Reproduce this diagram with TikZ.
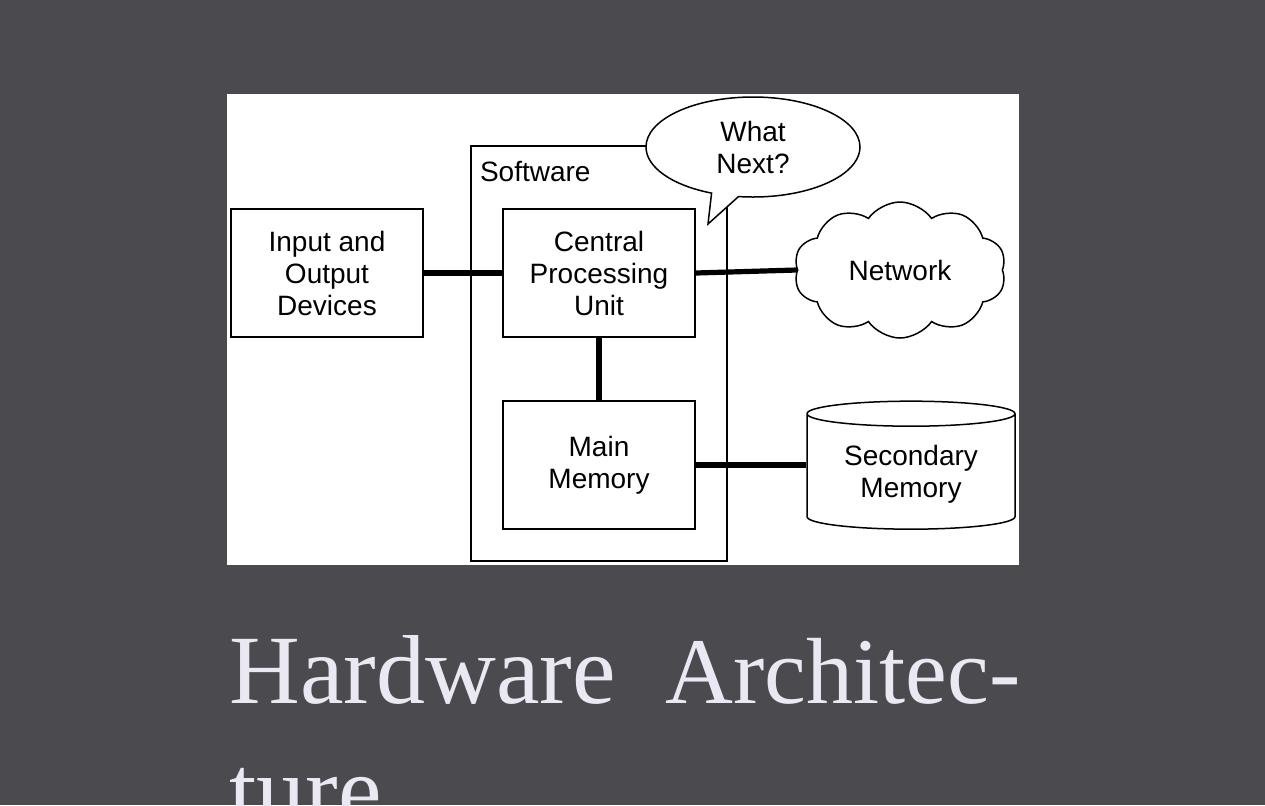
\documentclass[tikz,border=0pt]{standalone}
\usepackage{fontspec}
\setmainfont{Liberation Sans}
\newfontfamily\titlefont{Liberation Serif}
\usetikzlibrary{positioning}
\usetikzlibrary{shapes.geometric}
\usetikzlibrary{shapes.symbols}
\usetikzlibrary{shapes.callouts}
\definecolor{slidebg}{HTML}{4B4A4F}
\definecolor{titlecol}{HTML}{E9E8F3}
\tikzset{
  unitbox/.style={draw, line width=0.75pt, minimum width=96pt, minimum height=64pt, align=center, font=\fontsize{14}{16}\selectfont},
  bus/.style={line width=2.6pt},
}

\begin{document}
\begin{tikzpicture}[x=0.5pt, y=-0.5pt]
  % page and slide background
  \clip (0,0) rectangle (1265,805);
  \fill[slidebg] (0,0) rectangle (1265,805);
  \fill[white] (227,94) rectangle (1019,565);

  % software frame
  \node[draw, line width=0.75pt, minimum width=128pt, minimum height=207.5pt] (sw) at (599,353.5) {};
  \node[anchor=west, font=\fontsize{14}{16}\selectfont] (swlabel) at (473,171) {Software};

  % boxes
  \node[unitbox] (io) at (327,273) {Input and\\Output\\Devices};
  \node[unitbox] (cpu) at (599,273) {Central\\Processing\\Unit};
  \node[unitbox] (mem) at (599,465) {Main\\Memory};

  \node[cloud, draw, line width=0.75pt, cloud puffs=10, cloud puff arc=110, aspect=1.5,
        minimum width=106pt, minimum height=68pt, inner sep=0pt,
        font=\fontsize{14}{16}\selectfont] (net) at (900,270) {Network};
  \node[cylinder, draw, line width=0.75pt, shape border rotate=90, aspect=0.17,
        minimum width=104pt, minimum height=64pt, align=center,
        font=\fontsize{14}{16}\selectfont] (disk) at (911,474) {Secondary\\Memory};

  \coordinate (tip) at (708,224);
  \node[ellipse callout, draw, fill=white, line width=0.75pt, minimum width=107pt, minimum height=50pt,
        callout absolute pointer=(tip), align=center, font=\fontsize{14}{16}\selectfont] (next) at (753,147) {What\\Next?};

  % connections
  \draw[bus] (io.east) -- (cpu.west);
  \draw[bus] (cpu.east) -- (net.west);
  \draw[bus] (cpu.south) -- (mem.north);
  \draw[bus] (mem.east) -- (mem.east -| disk.west);

  % title
  \node[anchor=base west, inner sep=0pt, text=titlecol, font=\titlefont\fontsize{49}{60}\selectfont] (t1) at (229,703) {Hardware};
  \node[anchor=base west, inner sep=0pt, text=titlecol, font=\titlefont\fontsize{47}{60}\selectfont] (t2) at (665,703) {Architec-};
  \node[anchor=base west, inner sep=0pt, text=titlecol, font=\titlefont\fontsize{49}{60}\selectfont] (t3) at (229,823) {ture};
\end{tikzpicture}
\end{document}
